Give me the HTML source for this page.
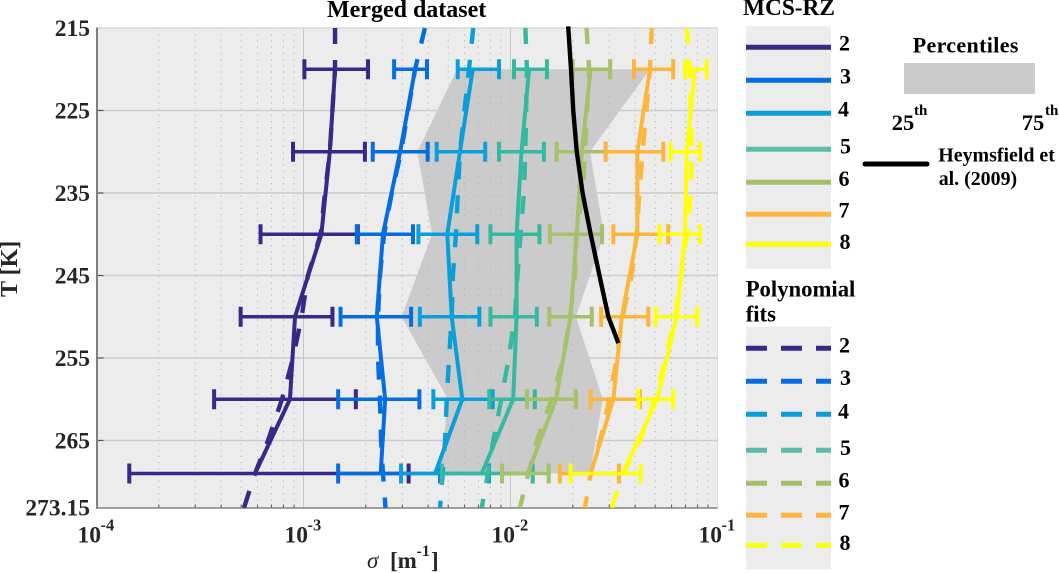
<!DOCTYPE html>
<html lang="en">
<head>
<meta charset="utf-8">
<title>Merged dataset</title>
<style>
html,body{margin:0;padding:0;background:#fff;}
body{width:1059px;height:573px;overflow:hidden;}
svg{display:block;}
text{font-family:"Liberation Serif",serif;font-weight:bold;}
.tick{fill:#262626;font-size:23.5px;}
.leg{fill:#000;font-size:22px;}
</style>
</head>
<body>
<svg id="chart" xmlns="http://www.w3.org/2000/svg" width="1059" height="573" viewBox="0 0 1059 573">
  <defs><clipPath id="plot-clip"><rect x="96" y="26" width="622" height="482"/></clipPath></defs>
  <rect x="97" y="28" width="620.5" height="480" fill="#ececec"/>
  <g id="plot"></g>
  <text x="327" y="17" font-size="24" fill="#000">Merged dataset</text>
  <text transform="translate(17,297) rotate(-90)" font-size="24" fill="#262626">T [K]</text>
  <g fill="#262626">
    <text x="367" y="568" font-size="23" style="font-weight:normal;font-style:italic">σ</text>
    <text x="390" y="568" font-size="23">[m</text>
    <text x="416.5" y="556" font-size="16">-1</text>
    <text x="431" y="568" font-size="23">]</text>
  </g>

  <g>
    <text x="743" y="15" font-size="23.3" fill="#000">MCS-RZ</text>
    <rect x="746" y="26" width="85" height="243" fill="#ececec"/>
    <g stroke-width="5">
      <line x1="746" x2="831" y1="47.3" y2="47.3" stroke="#352a87"/>
      <line x1="746" x2="831" y1="80.3" y2="80.3" stroke="#056de0"/>
      <line x1="746" x2="831" y1="113.3" y2="113.3" stroke="#0a9dd6"/>
      <line x1="746" x2="831" y1="149.3" y2="149.3" stroke="#5cbcab"/>
      <line x1="746" x2="831" y1="182.3" y2="182.3" stroke="#a5be6a"/>
      <line x1="746" x2="831" y1="214.3" y2="214.3" stroke="#fcb53e"/>
      <line x1="746" x2="831" y1="244.3" y2="244.3" stroke="#faff0b"/>
    </g>
    <text class="leg" x="839" y="50.7">2</text>
    <text class="leg" x="840" y="83.3">3</text>
    <text class="leg" x="838" y="116.7">4</text>
    <text class="leg" x="840" y="153.3">5</text>
    <text class="leg" x="838.5" y="186">6</text>
    <text class="leg" x="838.5" y="217.3">7</text>
    <text class="leg" x="839.5" y="249">8</text>
  </g>

  <g>
    <text x="912.7" y="52.3" font-size="22" letter-spacing="0.35" fill="#000">Percentiles</text>
    <rect x="904" y="63" width="131" height="31" fill="#cbcbcb"/>
    <text x="891.7" y="130" font-size="22.5" fill="#000">25</text>
    <text x="914" y="115" font-size="15" fill="#000">th</text>
    <text x="1021.7" y="130" font-size="22.5" fill="#000">75</text>
    <text x="1045" y="115" font-size="15" fill="#000">th</text>
  </g>

  <g>
    <line x1="865" x2="927" y1="164" y2="164" stroke="#000" stroke-width="5" stroke-linecap="round"/>
    <text x="938.3" y="161.7" font-size="19.9" fill="#000">Heymsfield et</text>
    <text x="938.7" y="185" font-size="19.9" fill="#000">al. (2009)</text>
  </g>

  <g>
    <text x="745.7" y="296.7" font-size="22.7" fill="#000">Polynomial</text>
    <text x="745.7" y="321.7" font-size="22.7" fill="#000">fits</text>
    <rect x="746" y="326.7" width="85" height="242.6" fill="#ececec"/>
    <g stroke-width="5" stroke-dasharray="21 14">
      <line x1="746" x2="831" y1="348.3" y2="348.3" stroke="#352a87"/>
      <line x1="746" x2="831" y1="381.3" y2="381.3" stroke="#056de0"/>
      <line x1="746" x2="831" y1="414.3" y2="414.3" stroke="#0a9dd6"/>
      <line x1="746" x2="831" y1="450.3" y2="450.3" stroke="#5cbcab"/>
      <line x1="746" x2="831" y1="483.3" y2="483.3" stroke="#a5be6a"/>
      <line x1="746" x2="831" y1="515.3" y2="515.3" stroke="#fcb53e"/>
      <line x1="746" x2="831" y1="545.3" y2="545.3" stroke="#faff0b"/>
    </g>
    <text class="leg" x="839" y="352.3">2</text>
    <text class="leg" x="840" y="385">3</text>
    <text class="leg" x="838" y="418.3">4</text>
    <text class="leg" x="840" y="455">5</text>
    <text class="leg" x="838.5" y="487.3">6</text>
    <text class="leg" x="838.5" y="519.3">7</text>
    <text class="leg" x="839.5" y="550">8</text>
  </g>
</svg>

<script>
// Axis data
const yTicks = [215, 225, 235, 245, 255, 265, 273.15];
const yTickLabels = ['215', '225', '235', '245', '255', '265', '273.15'];
const xDecadeExponents = [-4, -3, -2, -1];
const minorMultiples = [2, 3, 4, 5, 6, 7, 8, 9];

// Temperature levels
const errT = [220, 230, 240, 250, 260, 269];
const fitT = [215, 220, 230, 235, 240, 245, 250, 255, 260, 265, 269, 273.15];

// MCS-RZ 2
const median2 = [1.42e-3, 1.34e-3, 1.22e-3, 9.1e-4, 8.6e-4, 5.83e-4];
const lower2 = [1.01e-3, 8.9e-4, 6.2e-4, 4.97e-4, 3.7e-4, 1.44e-4];
const upper2 = [2.05e-3, 1.98e-3, 1.83e-3, 1.38e-3, 1.79e-3, 3.22e-3];
const fit2 = [1.42e-3, 1.42e-3, 1.34e-3, 1.27e-3, 1.21e-3, 1.05e-3, 9.8e-4, 8.9e-4, 7.87e-4, 6.74e-4, 5.83e-4, 5.16e-4];

// MCS-RZ 3
const median3 = [3.46e-3, 2.93e-3, 2.42e-3, 2.26e-3, 2.48e-3, 2.36e-3];
const lower3 = [2.74e-3, 2.16e-3, 1.81e-3, 1.51e-3, 1.47e-3, 1.47e-3];
const upper3 = [3.95e-3, 3.98e-3, 3.38e-3, 3.31e-3, 3.63e-3, 4.57e-3];
const fit3 = [3.86e-3, 3.46e-3, 2.96e-3, 2.67e-3, 2.45e-3, 2.34e-3, 2.29e-3, 2.29e-3, 2.34e-3, 2.37e-3, 2.42e-3, 2.49e-3];

// MCS-RZ 4
const median4 = [6.57e-3, 5.7e-3, 4.95e-3, 5.2e-3, 5.85e-3, 4.32e-3];
const lower4 = [5.56e-3, 4.4e-3, 3.59e-3, 3.65e-3, 4.24e-3, 2.96e-3];
const upper4 = [8.8e-3, 7.55e-3, 6.91e-3, 7.07e-3, 8.2e-3, 7.87e-3];
const fit4 = [6.61e-3, 6.3e-3, 5.7e-3, 5.57e-3, 5.45e-3, 5.27e-3, 5.2e-3, 5.05e-3, 4.92e-3, 4.83e-3, 4.7e-3, 4.57e-3];

// MCS-RZ 5
const median5 = [1.23e-2, 1.13e-2, 1.07e-2, 1.07e-2, 1.03e-2, 7.26e-3];
const lower5 = [1.04e-2, 8.8e-3, 8.0e-3, 8.0e-3, 7.9e-3, 4.65e-3];
const upper5 = [1.5e-2, 1.45e-2, 1.38e-2, 1.34e-2, 1.31e-2, 1.28e-2];
const fit5 = [1.18e-2, 1.2e-2, 1.18e-2, 1.16e-2, 1.12e-2, 1.08e-2, 1.05e-2, 9.8e-3, 9.03e-3, 8.26e-3, 7.78e-3, 7.26e-3];

// MCS-RZ 6
const median6 = [2.44e-2, 2.21e-2, 2.09e-2, 1.95e-2, 1.66e-2, 1.21e-2];
const lower6 = [2.0e-2, 1.67e-2, 1.55e-2, 1.54e-2, 1.2e-2, 9.1e-3];
const upper6 = [3.03e-2, 2.88e-2, 2.77e-2, 2.47e-2, 2.07e-2, 1.53e-2];
const fit6 = [2.33e-2, 2.4e-2, 2.29e-2, 2.23e-2, 2.08e-2, 2.05e-2, 1.94e-2, 1.8e-2, 1.58e-2, 1.34e-2, 1.22e-2, 1.11e-2];

// MCS-RZ 7
const median7 = [4.72e-2, 4.1e-2, 4.1e-2, 3.45e-2, 3.14e-2, 2.44e-2];
const lower7 = [3.95e-2, 2.88e-2, 3.14e-2, 2.74e-2, 2.44e-2, 1.73e-2];
const upper7 = [6.11e-2, 5.47e-2, 5.78e-2, 4.63e-2, 4.22e-2, 3.34e-2];
const fit7 = [4.81e-2, 4.72e-2, 4.35e-2, 4.19e-2, 4.07e-2, 3.85e-2, 3.48e-2, 3.26e-2, 3.0e-2, 2.71e-2, 2.44e-2, 2.29e-2];

// MCS-RZ 8
const median8 = [7.78e-2, 7.1e-2, 6.97e-2, 6.35e-2, 5.12e-2, 3.48e-2];
const lower8 = [6.97e-2, 5.94e-2, 5.24e-2, 5.03e-2, 4.14e-2, 1.95e-2];
const upper8 = [8.87e-2, 8.23e-2, 8.23e-2, 7.99e-2, 6.11e-2, 4.26e-2];
const fit8 = [7.1e-2, 7.36e-2, 7.5e-2, 7.45e-2, 7.15e-2, 6.66e-2, 6.23e-2, 5.62e-2, 4.99e-2, 4.22e-2, 3.51e-2, 3.08e-2];

// Percentile band (25th and 75th)
const bandT = [220, 230, 240, 250, 260, 269];
const band25 = [5.52e-3, 3.55e-3, 4.18e-3, 2.98e-3, 4.99e-3, 4.57e-3];
const band75 = [4.72e-2, 2.42e-2, 2.83e-2, 2.07e-2, 2.79e-2, 2.42e-2];

// Heymsfield et al. (2009)
const heymsT = [214.8, 220, 225, 230, 235, 240, 245, 250, 253.2];
const heymsSigma = [1.9e-2, 1.96e-2, 2.01e-2, 2.09e-2, 2.23e-2, 2.44e-2, 2.69e-2, 2.97e-2, 3.32e-2];

const seriesIds = [2, 3, 4, 5, 6, 7, 8];
const seriesColors = ['#352a87', '#056de0', '#0a9fd8', '#35b9a0', '#a5c16b', '#fdb63c', '#ffff0a'];
const seriesMedians = [median2, median3, median4, median5, median6, median7, median8];
const seriesLowers = [lower2, lower3, lower4, lower5, lower6, lower7, lower8];
const seriesUppers = [upper2, upper3, upper4, upper5, upper6, upper7, upper8];
const seriesFits = [fit2, fit3, fit4, fit5, fit6, fit7, fit8];

// Axis functions
function xScale(sigma) { return 96.5 + (Math.log10(sigma) + 4) * 207; }
function yScale(t) { return 28 + (t - 215) * 8.25; }

const NS = 'http://www.w3.org/2000/svg';
const plot = document.getElementById('plot');
const svg = document.getElementById('chart');

function mk(tag, attrs, parent) {
  const el = document.createElementNS(NS, tag);
  for (const k in attrs) el.setAttribute(k, attrs[k]);
  (parent || plot).appendChild(el);
  return el;
}
function pts(xs, ts) {
  return xs.map(function (v, i) { return xScale(v).toFixed(2) + ',' + yScale(ts[i]).toFixed(2); }).join(' ');
}

// Percentile band
const bandPts = pts(band25, bandT) + ' ' + pts(band75.slice().reverse(), bandT.slice().reverse());
const bandEl = mk('polygon', { points: bandPts, fill: '#cbcbcb' });



// Grid
const gridGroup = mk('g', {});


xDecadeExponents.forEach(function (e) {
  if (e < -1) {
    minorMultiples.forEach(function (m) {
      const x = xScale(m * Math.pow(10, e));
      const minor = mk('line', { x1: x, x2: x, y1: 28, y2: 508, stroke: '#b4b4b4', 'stroke-width': 1, 'stroke-dasharray': '1.2 5' }, gridGroup);
      
      
      const tick = mk('line', { x1: x, x2: x, y1: 504.5, y2: 508, stroke: '#555', 'stroke-width': 1 }, gridGroup);
      
      
    });
  }
  const xm = xScale(Math.pow(10, e));
  const major = mk('line', { x1: xm, x2: xm, y1: 28, y2: 508, stroke: '#c6c6c6', 'stroke-width': 1 }, gridGroup);
  
  
  const labelGroup = mk('g', { fill: '#262626' }, svg);
  
  
  const base = mk('text', { x: xm - 19, y: 542.7, 'font-size': 23.5 }, labelGroup);
  base.textContent = '10';
  const sup = mk('text', { x: xm + 4, y: 530.7, 'font-size': 16.5 }, labelGroup);
  sup.textContent = String(e);
});
// Right-most decade line
const rightEdge = mk('line', { x1: xScale(0.1), x2: xScale(0.1), y1: 28, y2: 508, stroke: '#dcdcdc', 'stroke-width': 1 }, gridGroup);


const topEdge = mk('line', { x1: 97, x2: 717.5, y1: 28, y2: 28, stroke: '#d8d8d8', 'stroke-width': 1.5 }, gridGroup);



yTicks.forEach(function (t, i) {
  const y = yScale(t);
  if (i > 0 && i < yTicks.length - 1) {
    const gl = mk('line', { x1: 97, x2: 717.5, y1: y, y2: y, stroke: '#cccccc', 'stroke-width': 1.5 }, gridGroup);
    
    
    const tk = mk('line', { x1: 97, x2: 103.5, y1: y, y2: y, stroke: '#555', 'stroke-width': 1.2 }, gridGroup);
    
    
  }
  const lbl = mk('text', { x: 90, y: y + 8, 'text-anchor': 'end', class: 'tick' }, svg);
  
  
  lbl.textContent = yTickLabels[i];
});

// Axes lines
const yAxisLine = mk('line', { x1: 97, x2: 97, y1: 27.5, y2: 508.8, stroke: '#808080', 'stroke-width': 2 });


const xAxisLine = mk('line', { x1: 96, x2: 717.5, y1: 508, y2: 508, stroke: '#808080', 'stroke-width': 1.5 });



// Series
const seriesLayer = mk('g', { 'clip-path': 'url(#plot-clip)' });



seriesIds.forEach(function (id, s) {
  const color = seriesColors[s];
  const g = mk('g', { stroke: color, fill: 'none' }, seriesLayer);
  
  
  errT.forEach(function (t, i) {
    const y = yScale(t);
    const xl = xScale(seriesLowers[s][i]);
    const xh = xScale(seriesUppers[s][i]);
    const bar = mk('line', { x1: xl, x2: xh, y1: y, y2: y, 'stroke-width': 3.6 }, g);
    
    
    const capL = mk('line', { x1: xl, x2: xl, y1: y - 10, y2: y + 10, 'stroke-width': 4 }, g);
    
    
    const capH = mk('line', { x1: xh, x2: xh, y1: y - 10, y2: y + 10, 'stroke-width': 4 }, g);
    
    
  });
  const med = mk('polyline', { points: pts(seriesMedians[s], errT), 'stroke-width': 4, 'stroke-linejoin': 'round' }, g);
  
  
  const fit = mk('polyline', { points: pts(seriesFits[s], fitT), 'stroke-width': 4.4, 'stroke-dasharray': '18 16', 'stroke-dashoffset': 2 }, g);
  
  
});

const heyms = mk('polyline', { points: pts(heymsSigma, heymsT), fill: 'none', stroke: '#000', 'stroke-width': 4.4, 'stroke-linejoin': 'round' }, seriesLayer);


</script>
</body>
</html>
